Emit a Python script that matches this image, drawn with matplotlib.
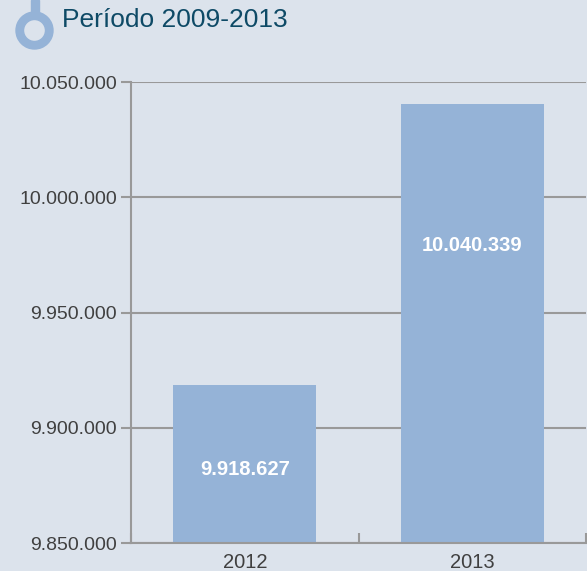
import matplotlib
matplotlib.use("Agg")
import matplotlib.pyplot as plt
from matplotlib.patches import Wedge, Rectangle
from matplotlib.ticker import FuncFormatter, FixedLocator

# data
years = ["2012", "2013"]
populacao = [9918627, 10040339]
value_labels = ["9.918.627", "10.040.339"]
label_y = [9882000, 9979000]
y_ticks = [9850000, 9900000, 9950000, 10000000, 10050000]
title = "Período 2009-2013"

BG = "#dce3ec"
BAR = "#95b3d7"
GRID = "#999999"
TXT = "#404040"

plt.rcParams["font.family"] = ["Liberation Sans", "DejaVu Sans"]

fig = plt.figure(figsize=(5.87, 5.71), dpi=100, facecolor=BG)
ax = fig.add_axes([131 / 587, 28 / 571, 455 / 587, 461 / 571], facecolor=BG)

x = list(range(len(years)))
ax.bar(x, populacao, width=0.63, color=BAR, zorder=2)
for xi, lab, ly in zip(x, value_labels, label_y):
    ax.text(xi, ly, lab, ha="center", va="center", color="white",
            fontsize=14.5, fontweight="bold", zorder=3)

ax.set_xlim(-0.5, 1.5)
ax.set_ylim(y_ticks[0], y_ticks[-1])
ax.set_yticks(y_ticks)
ax.yaxis.set_major_formatter(FuncFormatter(lambda v, p: f"{int(v):,}".replace(",", ".")))
ax.set_xticks(x)
ax.set_xticklabels(years)
ax.xaxis.set_minor_locator(FixedLocator([-0.5, 0.5, 1.5]))
ax.tick_params(axis="x", which="major", length=0, pad=7, labelsize=14.5, labelcolor=TXT)
ax.tick_params(axis="x", which="minor", length=7, width=1.5, color=GRID, direction="in")
ax.tick_params(axis="y", length=7, width=1.5, color=GRID, labelsize=14, labelcolor=TXT, pad=3)
ax.grid(axis="y", color=GRID, linewidth=1.5, zorder=1)
for s in ["top", "right"]:
    ax.spines[s].set_visible(False)
for s in ["left", "bottom"]:
    ax.spines[s].set_color(GRID)
    ax.spines[s].set_linewidth(1.5)
    ax.spines[s].set_zorder(4)

# title icon and text in pixel space
ov = fig.add_axes([0, 0, 1, 1], facecolor="none")
ov.set_xlim(0, 587)
ov.set_ylim(571, 0)
ov.axis("off")
ov.add_patch(Wedge((34.5, 30.5), 18.5, 0, 360, width=7.5, color=BAR))
ov.add_patch(Rectangle((30.5, 0), 8, 13, color=BAR))
ov.text(62, 20, title, ha="left", va="center", fontsize=19, color="#0e4a66")

fig.savefig("out.png", dpi=100, facecolor=BG)
